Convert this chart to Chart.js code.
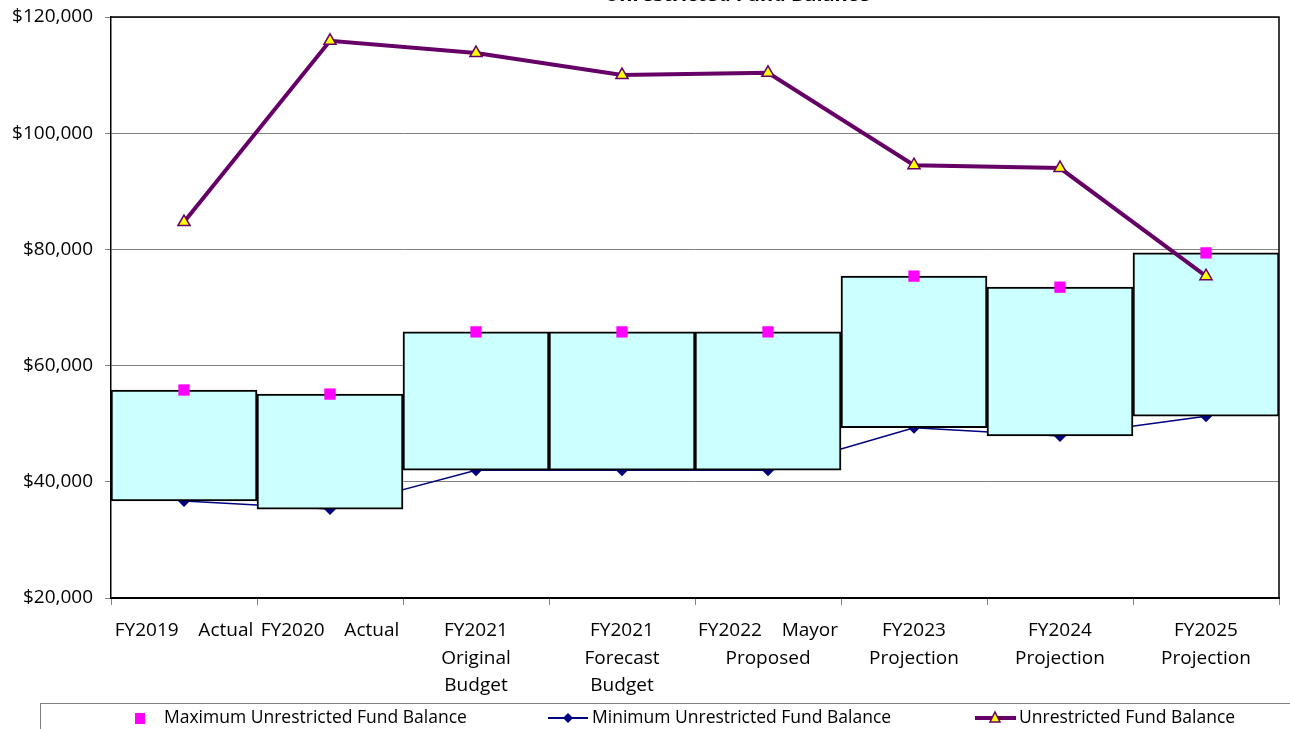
<!DOCTYPE html>
<html>
<head>
<meta charset="utf-8">
<script src="https://cdn.jsdelivr.net/npm/chart.js@4/dist/chart.umd.min.js"></script>
<style>
  html, body { margin: 0; padding: 0; background: #fff; overflow: hidden; }
  #wrap { position: relative; width: 1290px; height: 729px; }
</style>
</head>
<body>
<div id="wrap"><canvas id="chartFondo" width="1290" height="729"></canvas></div>
<script>
// Categorías y valores
const categorias = [
    ['FY2019    Actual'],
    ['FY2020    Actual'],
    ['FY2021', 'Original', 'Budget'],
    ['FY2021', 'Forecast', 'Budget'],
    ['FY2022    Mayor', 'Proposed'],
    ['FY2023', 'Projection'],
    ['FY2024', 'Projection'],
    ['FY2025', 'Projection']
];
const maximo = [55800, 55100, 65800, 65800, 65800, 75400, 73500, 79400];
const minimo = [36700, 35300, 42000, 42000, 42000, 49300, 47900, 51300];
const saldo = [84700, 115900, 113800, 110000, 110400, 94500, 94000, 75400];
const ticksY = [20000, 40000, 60000, 80000, 100000, 120000];

const fuente = "'Open Sans', 'Noto Sans', sans-serif";
const gris = '#808080';

// Cajas flotantes min -> max
const rangos = minimo.map((v, i) => [v, maximo[i]]);

// Borde del área de trazado + título recortado
const bordePlugin = {
    id: 'bordePlugin',
    afterDraw(chart) {
        const { ctx, chartArea: a } = chart;
        ctx.save();
        ctx.strokeStyle = '#000';
        ctx.lineWidth = 1.5;
        ctx.beginPath();
        ctx.moveTo(a.left, a.top);
        ctx.lineTo(a.right, a.top);
        ctx.lineTo(a.right, a.bottom);
        ctx.stroke();
        // título (casi fuera de la vista)
        ctx.fillStyle = '#000';
        ctx.font = `bold 20px ${fuente}`;
        ctx.textAlign = 'center';
        ctx.textBaseline = 'alphabetic';
        ctx.fillText('Unrestricted Fund Balance', 737, 0.5);
        ctx.restore();
    }
};

// Leyenda dibujada a mano (línea + marcador)
const leyendaPlugin = {
    id: 'leyendaPlugin',
    afterDraw(chart) {
        const ctx = chart.ctx;
        ctx.save();
        ctx.strokeStyle = gris;
        ctx.lineWidth = 1;
        ctx.strokeRect(40.5, 703.5, 1300, 60);

        const y = 718;
        ctx.font = `17.5px ${fuente}`;
        ctx.fillStyle = '#000';
        ctx.textBaseline = 'middle';
        ctx.textAlign = 'left';

        // máximo: cuadro rosa
        ctx.fillStyle = '#FF00FF';
        ctx.fillRect(135, y - 5, 10, 11);
        ctx.fillStyle = '#000';
        ctx.fillText('Maximum Unrestricted Fund Balance', 164, y);

        // mínimo: línea azul con rombo
        ctx.strokeStyle = '#000080';
        ctx.lineWidth = 2;
        ctx.beginPath(); ctx.moveTo(548, y); ctx.lineTo(588, y); ctx.stroke();
        ctx.fillStyle = '#000080';
        ctx.beginPath();
        ctx.moveTo(568, y - 5); ctx.lineTo(573, y); ctx.lineTo(568, y + 5); ctx.lineTo(563, y);
        ctx.closePath(); ctx.fill();
        ctx.fillStyle = '#000';
        ctx.fillText('Minimum Unrestricted Fund Balance', 592, y);

        // saldo: línea morada con triángulo
        ctx.strokeStyle = '#660066';
        ctx.lineWidth = 4;
        ctx.beginPath(); ctx.moveTo(975, y); ctx.lineTo(1016, y); ctx.stroke();
        ctx.fillStyle = '#FFFF00';
        ctx.strokeStyle = '#660066';
        ctx.lineWidth = 1.5;
        ctx.beginPath();
        ctx.moveTo(995, y - 6); ctx.lineTo(1000, y + 4); ctx.lineTo(990, y + 4);
        ctx.closePath(); ctx.fill(); ctx.stroke();
        ctx.fillStyle = '#000';
        ctx.fillText('Unrestricted Fund Balance', 1019, y);
        ctx.restore();
    }
};

const ctx = document.getElementById('chartFondo').getContext('2d');
new Chart(ctx, {
    type: 'bar',
    data: {
        labels: categorias,
        datasets: [
            {
                type: 'line',
                label: 'Minimum Unrestricted Fund Balance',
                data: minimo,
                borderColor: '#000080',
                backgroundColor: '#000080',
                borderWidth: 1.5,
                pointStyle: 'rectRot',
                pointRadius: 6,
                pointBorderWidth: 0,
                order: 4
            },
            {
                type: 'bar',
                label: 'Rango',
                data: rangos,
                backgroundColor: '#CCFFFF',
                borderColor: '#000',
                borderWidth: 2,
                borderSkipped: false,
                barPercentage: 1,
                categoryPercentage: 1,
                order: 3
            },
            {
                type: 'line',
                label: 'Maximum Unrestricted Fund Balance',
                data: maximo,
                showLine: false,
                pointStyle: 'rect',
                pointRadius: 8,
                pointBorderWidth: 0,
                backgroundColor: '#FF00FF',
                borderColor: '#FF00FF',
                order: 2
            },
            {
                type: 'line',
                label: 'Unrestricted Fund Balance',
                data: saldo,
                borderColor: '#660066',
                borderWidth: 4,
                pointStyle: 'triangle',
                pointRadius: 7,
                pointBackgroundColor: '#FFFF00',
                pointBorderColor: '#660066',
                pointBorderWidth: 1.5,
                order: 1
            }
        ]
    },
    options: {
        responsive: false,
        animation: false,
        layout: { padding: { top: 17, right: 11, left: 0, bottom: 0 } },
        scales: {
            x: {
                offset: true,
                grid: {
                    offset: true,
                    drawOnChartArea: false,
                    drawTicks: true,
                    tickLength: 7,
                    color: gris
                },
                border: { color: '#000', width: 2 },
                ticks: {
                    color: '#000',
                    font: { family: fuente, size: 19, lineHeight: 1.45 },
                    maxRotation: 0,
                    autoSkip: false,
                    padding: 12
                },
                afterFit: s => { s.height = 131; s.paddingLeft = 0; s.paddingRight = 0; }
            },
            y: {
                min: 20000,
                max: 120000,
                afterBuildTicks: s => { s.ticks = ticksY.map(v => ({ value: v })); },
                grid: {
                    color: gris,
                    drawTicks: true,
                    tickLength: 6
                },
                border: { color: '#000', width: 1.5 },
                ticks: {
                    color: '#000',
                    font: { family: fuente, size: 19 },
                    padding: 12,
                    callback: v => '$' + v.toLocaleString('en-US')
                },
                afterFit: s => { s.width = 111; s.paddingTop = 0; s.paddingBottom = 0; }
            }
        },
        plugins: {
            legend: { display: false },
            tooltip: { enabled: false }
        }
    },
    plugins: [bordePlugin, leyendaPlugin]
});
</script>
</body>
</html>
